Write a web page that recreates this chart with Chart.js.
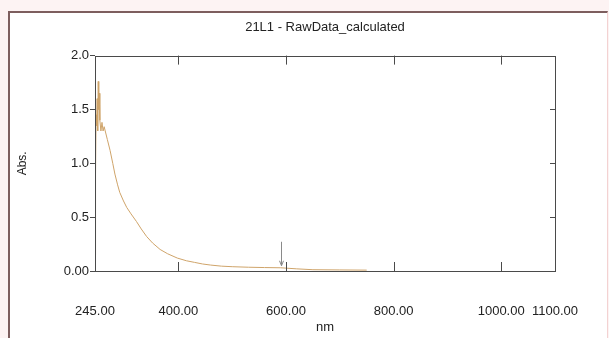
<!DOCTYPE html>
<html lang="en">
<head>
    <meta charset="UTF-8">
    <title>21L1 - RawData_calculated</title>
    <script src="https://cdn.jsdelivr.net/npm/chart.js"></script>
    <style>
        html, body {
            margin: 0;
            padding: 0;
            width: 609px;
            height: 338px;
            overflow: hidden;
            background: #fdf3f3;
        }
        /* painel com a moldura acastanhada */
        #frame {
            position: absolute;
            left: 8px;
            top: 11px;
            width: 597px;
            height: 340px;
            background: #fff;
            border-left: 2px solid #7d5e5e;
            border-top: 2px solid #7d5e5e;
            border-right: 1px solid #f3d2d2;
        }
        #spec {
            position: absolute;
            left: 0;
            top: 0;
        }
    </style>
</head>
<body>
<div id="frame"></div>
<canvas id="spec" width="609" height="338"></canvas>

<script>
// espectro (nm, Abs.)
const wavelengths = [245, 246, 247, 248, 249, 250, 251, 252, 253, 254, 256, 258, 260, 262, 264, 268, 273, 278, 282,
    287, 291, 298, 304, 312, 322, 331, 341, 352, 366, 380, 398, 415, 430, 445, 460, 480, 500, 530, 560, 590, 620,
    650, 700, 750];
const absorbance = [0.15, 0.9, 1.45, 1.35, 1.6, 1.3, 1.76, 1.5, 1.65, 1.4, 1.3, 1.38, 1.3, 1.34, 1.3, 1.22, 1.12, 1.0, 0.9,
    0.8, 0.73, 0.65, 0.59, 0.53, 0.46, 0.39, 0.32, 0.26, 0.20, 0.16, 0.12, 0.095, 0.08, 0.065, 0.055, 0.045, 0.04, 0.035, 0.032, 0.03, 0.02,
    0.012, 0.01, 0.008];

const xTicks = [245, 400, 600, 800, 1000, 1100];
const yTicks = [0, 0.5, 1.0, 1.5, 2.0];
const yTickLabels = ['0.00', '0.5', '1.0', '1.5', '2.0'];
const xInnerTicks = [400, 600, 800, 1000];
const yInnerTicks = [0.5, 1.0, 1.5];
const peakMarks = [590];   // seta de pico

const narrow = "'Liberation Sans Narrow', 'Arial Narrow', 'Liberation Sans', Arial, sans-serif";

// moldura do gráfico, tracinhos internos e seta do pico
const framePlugin = {
    id: 'framePlugin',
    afterDatasetsDraw(chart) {
        const {ctx, chartArea: a, scales: {x, y}} = chart;
        ctx.save();
        ctx.strokeStyle = '#4a4a4a';
        ctx.lineWidth = 1;
        ctx.beginPath();
        xInnerTicks.forEach(v => {
            const px = Math.round(x.getPixelForValue(v)) + 0.5;
            ctx.moveTo(px, a.top); ctx.lineTo(px, a.top + 9);
            ctx.moveTo(px, a.bottom); ctx.lineTo(px, a.bottom - 9);
        });
        yInnerTicks.forEach(v => {
            const py = Math.round(y.getPixelForValue(v)) + 0.5;
            ctx.moveTo(a.right, py); ctx.lineTo(a.right - 5, py);
        });
        ctx.stroke();

        // seta cinza
        ctx.strokeStyle = '#8a8a8a';
        peakMarks.forEach(nm => {
            const px = Math.round(x.getPixelForValue(nm)) + 0.5;
            const i = wavelengths.findIndex(w => w >= nm);
            const tip = y.getPixelForValue(absorbance[i]) - 2;
            ctx.beginPath();
            ctx.moveTo(px, tip - 24); ctx.lineTo(px, tip);
            ctx.moveTo(px - 2, tip - 5); ctx.lineTo(px, tip); ctx.lineTo(px + 2, tip - 5);
            ctx.stroke();
        });

        ctx.strokeStyle = '#4a4a4a';
        ctx.strokeRect(Math.round(a.left) + 0.5, Math.round(a.top) + 0.5,
            Math.round(a.right - a.left), Math.round(a.bottom - a.top));
        ctx.restore();
    }
};

const ctx = document.getElementById('spec').getContext('2d');
new Chart(ctx, {
    type: 'line',
    data: {
        datasets: [{
            data: wavelengths.map((w, i) => ({x: w, y: absorbance[i]})),
            borderColor: '#cfa46a',
            borderWidth: 1,
            pointRadius: 0,
            tension: 0,
            fill: false
        }]
    },
    options: {
        responsive: false,
        animation: false,
        devicePixelRatio: 1,
        layout: {padding: {left: 0, right: 54, top: 0, bottom: 0}},
        scales: {
            x: {
                type: 'linear',
                min: 245,
                max: 1100,
                afterBuildTicks: s => { s.ticks = xTicks.map(v => ({value: v})); },
                afterFit: s => { s.height = 67; },
                grid: {display: false},
                border: {display: false},
                ticks: {
                    autoSkip: false,
                    maxRotation: 0,
                    padding: 25,
                    color: '#222',
                    font: {family: narrow, size: 13},
                    callback: v => v.toFixed(2)
                },
                title: {
                    display: true,
                    text: 'nm',
                    color: '#222',
                    font: {family: narrow, size: 13},
                    padding: {top: 0, bottom: 3}
                }
            },
            y: {
                min: 0,
                max: 2,
                afterBuildTicks: s => { s.ticks = yTicks.map(v => ({value: v})); },
                afterFit: s => { s.width = 95; },
                grid: {
                    drawOnChartArea: false,
                    drawTicks: true,
                    tickLength: 5,
                    color: '#4a4a4a'
                },
                border: {display: false},
                ticks: {
                    padding: 1,
                    color: '#222',
                    font: {family: narrow, size: 13},
                    callback: v => yTickLabels[yTicks.indexOf(v)]
                },
                title: {
                    display: true,
                    text: 'Abs.',
                    color: '#222',
                    font: {family: "'Liberation Sans', Arial, sans-serif", size: 12},
                    padding: {top: 15, bottom: 0}
                }
            }
        },
        plugins: {
            legend: {display: false},
            tooltip: {enabled: false},
            title: {
                display: true,
                fullSize: false,
                text: '21L1 - RawData_calculated',
                color: '#222',
                font: {family: narrow, size: 13, weight: 'normal'},
                padding: {top: 20, bottom: 20}
            }
        }
    },
    plugins: [framePlugin]
});
</script>
</body>
</html>
